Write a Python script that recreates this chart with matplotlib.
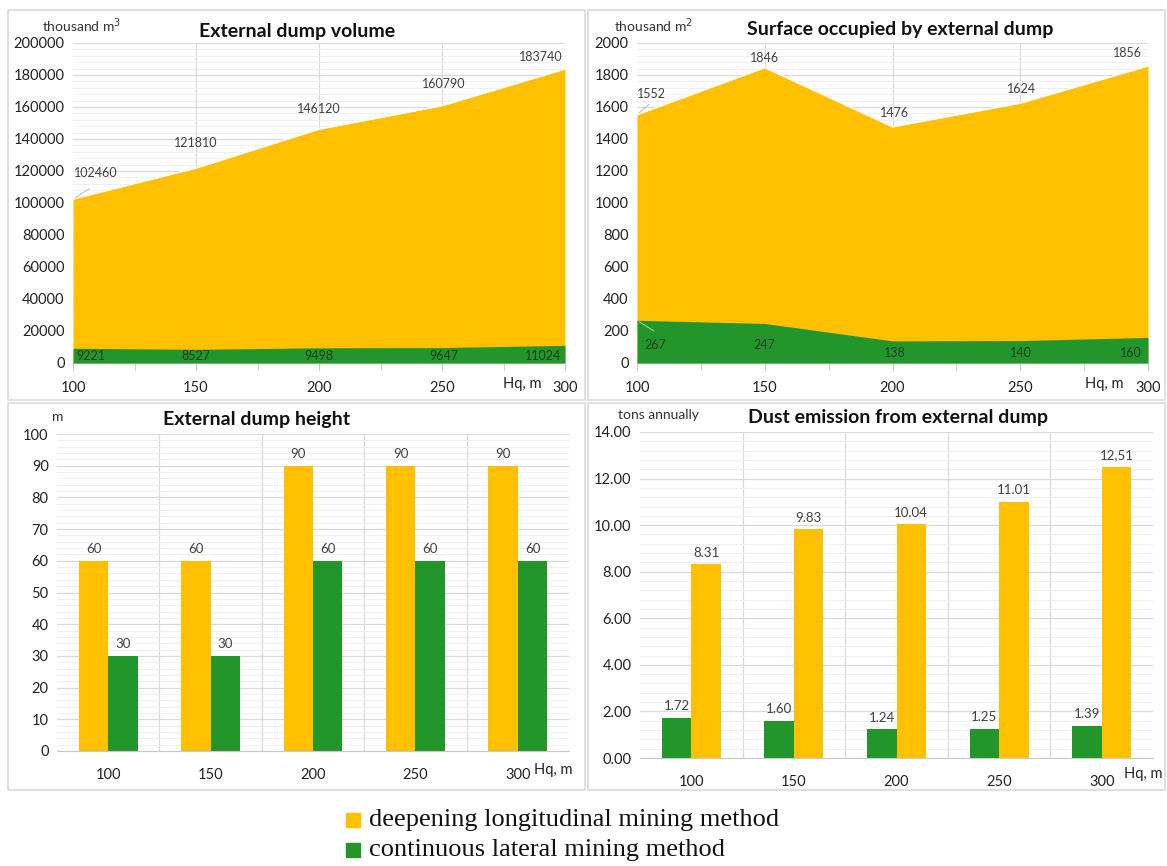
import matplotlib
matplotlib.use("Agg")
import matplotlib.pyplot as plt
from matplotlib.patches import Rectangle
from matplotlib.ticker import MultipleLocator

plt.rcParams['font.family'] = ['Lato', 'DejaVu Sans']

YELLOW = '#FFC000'
GREEN = '#22962B'
TXT = '#404040'
GRID = '#d9d9d9'
MINOR = '#efefef'

# depth of the quarry, m
hq = [100, 150, 200, 250, 300]
hq_labels = ['100', '150', '200', '250', '300']

# external dump volume, thousand m3
vol_deep = [102460, 121810, 146120, 160790, 183740]
vol_cont = [9221, 8527, 9498, 9647, 11024]

# surface occupied, thousand m2
surf_deep = [1552, 1846, 1476, 1624, 1856]
surf_cont = [267, 247, 138, 140, 160]

# dump height, m
height_deep = [60, 60, 90, 90, 90]
height_cont = [30, 30, 60, 60, 60]

# dust emission, tons annually
dust_deep = [8.31, 9.83, 10.04, 11.01, 12.51]
dust_cont = [1.72, 1.60, 1.24, 1.25, 1.39]
dust_deep_txt = ['8.31', '9.83', '10.04', '11.01', '12,51']

W, H = 1167, 866
fig = plt.figure(figsize=(W / 100, H / 100), dpi=100)


def px_axes(x0, y0, x1, y1):
    return fig.add_axes([x0 / W, 1 - y1 / H, (x1 - x0) / W, (y1 - y0) / H])


def frame(x0, y0, x1, y1):
    fig.patches.append(Rectangle((x0 / W, 1 - y1 / H), (x1 - x0) / W, (y1 - y0) / H,
                                 transform=fig.transFigure, fill=False,
                                 edgecolor='#dadada', lw=1.2))


def ftext(x, y, s, **kw):
    fig.text(x / W, 1 - y / H, s, **kw)


def style(ax, ymax, ystep, nminor):
    ax.set_ylim(0, ymax)
    ax.yaxis.set_major_locator(MultipleLocator(ystep))
    ax.yaxis.set_minor_locator(MultipleLocator(ystep / nminor))
    ax.grid(axis='y', which='major', color=GRID, lw=0.9)
    ax.grid(axis='y', which='minor', color=MINOR, lw=0.7)
    ax.set_axisbelow(True)
    for s in ['top', 'right', 'left']:
        ax.spines[s].set_visible(False)
    ax.spines['bottom'].set_color('#c8c8c8')
    ax.tick_params(axis='y', length=0, labelsize=10.5, labelcolor='#222222', pad=6)
    ax.tick_params(axis='y', which='minor', length=0)


def area_chart(ax, deep, cont, ymax, ystep):
    style(ax, ymax, ystep, 5)
    for x in hq[1:-1]:
        ax.axvline(x, color=GRID, lw=0.9, zorder=0)
    ax.fill_between(hq, deep, color=YELLOW, lw=0, zorder=2)
    ax.fill_between(hq, cont, color=GREEN, lw=0, zorder=3)
    ax.plot(hq, deep, color='white', lw=1.0, zorder=2.5)
    ax.set_xlim(100, 300)
    ax.set_xticks(hq)
    ax.set_xticklabels(hq_labels)
    ax.xaxis.set_minor_locator(MultipleLocator(25))
    ax.tick_params(axis='x', which='both', direction='out', length=5,
                   color='#c8c8c8', labelsize=10.5, labelcolor='#222222', pad=8)


def bar_chart(ax, first, second, c1, c2, ymax, ystep, fmt1, fmt2):
    style(ax, ymax, ystep, 5)
    x = range(len(hq))
    for b in [i + 0.5 for i in range(len(hq) - 1)]:
        ax.axvline(b, color=GRID, lw=0.9, zorder=0)
    w = 0.288
    b1 = ax.bar([i - w / 2 for i in x], first, w, color=c1, zorder=2)
    b2 = ax.bar([i + w / 2 for i in x], second, w, color=c2, zorder=2)
    ax.bar_label(b1, labels=fmt1, padding=4, fontsize=9.5, color=TXT)
    ax.bar_label(b2, labels=fmt2, padding=4, fontsize=9.5, color=TXT)
    ax.set_xlim(-0.5, len(hq) - 0.5)
    ax.set_xticks(list(x))
    ax.set_xticklabels(hq_labels)
    ax.tick_params(axis='x', length=0, labelsize=10.5, labelcolor='#222222', pad=12)


# panel borders
frame(8, 10, 585, 400)
frame(588, 10, 1165, 400)
frame(8, 403, 585, 790)
frame(588, 403, 1165, 790)

# external dump volume
ax1 = px_axes(73, 43, 565, 363)
area_chart(ax1, vol_deep, vol_cont, 200000, 20000)
lab_off = [(23, 26), (0, 25), (0, 20), (2, 22), (-24, 12)]
for x, v, (dx, dy) in zip(hq, vol_deep, lab_off):
    ax1.annotate(str(v), (x, v), xytext=(dx, dy), textcoords='offset pixels',
                 ha='center', va='center', fontsize=9, color=TXT, zorder=5)
ax1.annotate('', (100, vol_deep[0]), xytext=(19, 12), textcoords='offset pixels',
             arrowprops=dict(arrowstyle='-', color='#bfbfbf', lw=0.8))
for x, v, dx in zip(hq, vol_cont, [18, 0, 0, 2, -22]):
    ax1.annotate(str(v), (x, 4400), xytext=(dx, 0), textcoords='offset pixels',
                 ha='center', va='center', fontsize=9, color='#1f3d1f', zorder=5)
ftext(82, 26, 'thousand m$^3$', ha='center', va='center', fontsize=10, color='#333333')
ftext(297, 31, 'External dump volume', ha='center', va='center', fontsize=14,
      fontweight='bold', color='#111111')
ftext(522, 384, 'Hq, m', ha='center', va='center', fontsize=10.5, color='#222222')

# surface occupied
ax2 = px_axes(637, 43, 1148, 363)
area_chart(ax2, surf_deep, surf_cont, 2000, 200)
lab_off = [(14, 21), (0, 10), (2, 14), (1, 14), (-21, 13)]
for x, v, (dx, dy) in zip(hq, surf_deep, lab_off):
    ax2.annotate(str(v), (x, v), xytext=(dx, dy), textcoords='offset pixels',
                 ha='center', va='center', fontsize=9, color=TXT, zorder=5)
ax2.annotate('', (100, surf_deep[0]), xytext=(14, 12), textcoords='offset pixels',
             arrowprops=dict(arrowstyle='-', color='#bfbfbf', lw=0.8))
ax2.annotate('', (100, surf_cont[0]), xytext=(19, -12), textcoords='offset pixels',
             arrowprops=dict(arrowstyle='-', color='#9fcf9f', lw=0.8), zorder=5)
for x, v, dx, yl in zip(hq, surf_cont, [18, 0, 2, 1, -17], [112, 112, 62, 62, 62]):
    ax2.annotate(str(v), (x, yl), xytext=(dx, 0), textcoords='offset pixels',
                 ha='center', va='center', fontsize=9, color='#1f3d1f', zorder=5)
ftext(654, 26, 'thousand m$^2$', ha='center', va='center', fontsize=10, color='#333333')
ftext(900, 29, 'Surface occupied by external dump', ha='center', va='center',
      fontsize=14, fontweight='bold', color='#111111')
ftext(1104, 384, 'Hq, m', ha='center', va='center', fontsize=10.5, color='#222222')

# dump height
ax3 = px_axes(57, 434, 569, 751)
bar_chart(ax3, height_deep, height_cont, YELLOW, GREEN, 100, 10,
          [str(v) for v in height_deep], [str(v) for v in height_cont])
ftext(58, 417, 'm', ha='center', va='center', fontsize=10, color='#333333')
ftext(257, 419, 'External dump height', ha='center', va='center', fontsize=14,
      fontweight='bold', color='#111111')
ftext(553, 770, 'Hq, m', ha='center', va='center', fontsize=10.5, color='#222222')

# dust emission
ax4 = px_axes(640, 432, 1153, 758)
bar_chart(ax4, dust_cont, dust_deep, GREEN, YELLOW, 14, 2,
          ['%.2f' % v for v in dust_cont], dust_deep_txt)
ax4.yaxis.set_major_formatter(lambda v, p: '%.2f' % v)
ftext(658, 415, 'tons annually', ha='center', va='center', fontsize=10, color='#333333')
ftext(898, 418, 'Dust emission from external dump', ha='center', va='center',
      fontsize=14, fontweight='bold', color='#111111')
ftext(1143, 774, 'Hq, m', ha='center', va='center', fontsize=10.5, color='#222222')

# shared legend
legend_items = [('deepening longitudinal mining method', YELLOW),
                ('continuous lateral mining method', GREEN)]
for i, (name, col) in enumerate(legend_items):
    yc = 820 + 30 * i
    fig.patches.append(Rectangle((346 / W, 1 - (yc + 7) / H), 14 / W, 14 / H,
                                 transform=fig.transFigure, color=col))
    ftext(369, yc, name, ha='left', va='center', fontsize=19,
          family='Liberation Serif', color='#111111')

fig.savefig('out.png', dpi=100)
